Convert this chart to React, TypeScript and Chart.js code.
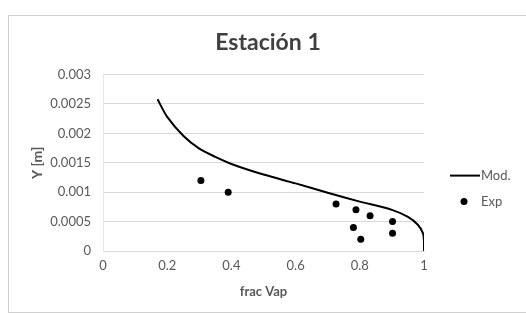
import React, { useEffect, useRef } from "react";
import { Chart, registerables } from "chart.js";

Chart.register(...registerables);

const titleText = "Estación 1";
const xTitle = "frac Vap";
const yTitle = "Y [m]";
const legendLabels = ["Mod.", "Exp"];

const modX = [0.17, 0.2, 0.25, 0.3, 0.35, 0.4, 0.5, 0.6, 0.7, 0.8, 0.9, 0.95, 0.98, 0.997, 1.0, 1.0];
const modY = [0.00258, 0.00228, 0.00196, 0.00174, 0.0016, 0.00148, 0.0013, 0.00115, 0.00099, 0.00084, 0.0007, 0.00058, 0.00045, 0.0003, 0.00015, 0];

const expX = [0.305, 0.39, 0.726, 0.788, 0.832, 0.78, 0.803, 0.902, 0.902];
const expY = [0.0012, 0.001, 0.0008, 0.0007, 0.0006, 0.0004, 0.0002, 0.0005, 0.0003];

const xTickValues = [0, 0.2, 0.4, 0.6, 0.8, 1];
const xTickLabels = ["0", "0.2", "0.4", "0.6", "0.8", "1"];
const yTickValues = [0, 0.0005, 0.001, 0.0015, 0.002, 0.0025, 0.003];
const yTickLabels = ["0", "0.0005", "0.001", "0.0015", "0.002", "0.0025", "0.003"];

const FONT = "Lato, 'Open Sans', sans-serif";
const TEXT = "#595959";

function labelFor(v: number, vals: number[], labels: string[]) {
  for (let i = 0; i < vals.length; i++) {
    if (Math.abs(vals[i] - v) < 1e-9) return labels[i];
  }
  return "";
}

const legendPlugin = {
  id: "customLegend",
  afterDraw(chart: any) {
    const { ctx, chartArea } = chart;
    const r = chartArea.right;
    const t = chartArea.top;
    ctx.save();
    ctx.font = `13px ${FONT}`;
    ctx.textBaseline = "middle";
    ctx.strokeStyle = "#000";
    ctx.lineWidth = 2;
    ctx.beginPath();
    ctx.moveTo(r + 26, t + 101);
    ctx.lineTo(r + 56, t + 101);
    ctx.stroke();
    ctx.fillStyle = TEXT;
    ctx.fillText(legendLabels[0], r + 57, t + 101);
    ctx.fillStyle = "#000";
    ctx.beginPath();
    ctx.arc(r + 40, t + 127, 3.5, 0, Math.PI * 2);
    ctx.fill();
    ctx.fillStyle = TEXT;
    ctx.fillText(legendLabels[1], r + 57, t + 127);
    ctx.restore();
  },
};

export default function App() {
  const ref = useRef<HTMLCanvasElement>(null);
  useEffect(() => {
    if (!ref.current) return;
    const chart = new Chart(ref.current, {
      type: "scatter",
      data: {
        datasets: [
          {
            label: legendLabels[0],
            data: modX.map((x, i) => ({ x, y: modY[i] })),
            showLine: true,
            borderColor: "#000",
            backgroundColor: "#000",
            borderWidth: 2,
            pointRadius: 0,
            tension: 0.25,
          },
          {
            label: legendLabels[1],
            data: expX.map((x, i) => ({ x, y: expY[i] })),
            showLine: false,
            borderColor: "#000",
            backgroundColor: "#000",
            pointRadius: 3.5,
            pointBorderWidth: 0,
          },
        ],
      },
      options: {
        responsive: false,
        animation: false,
        layout: { padding: { left: 0, right: 0, top: 0, bottom: 0 } },
        plugins: {
          legend: { display: false },
          tooltip: { enabled: false },
          title: {
            display: true,
            text: titleText,
            color: "#404040",
            font: { family: FONT, size: 23, weight: "bold" },
            padding: { top: 13, bottom: 18 },
          },
        },
        scales: {
          x: {
            type: "linear",
            min: 0,
            max: 1,
            afterFit: (s: any) => { s.height = 61; },
            afterBuildTicks: (s: any) => { s.ticks = xTickValues.map((v) => ({ value: v })); },
            ticks: {
              color: TEXT,
              font: { family: FONT, size: 13 },
              padding: 7,
              maxRotation: 0,
              callback: (v: any) => labelFor(Number(v), xTickValues, xTickLabels),
            },
            grid: { display: false, drawTicks: false },
            border: { display: true, color: "#d9d9d9", width: 1 },
            title: {
              display: true,
              text: xTitle,
              color: TEXT,
              font: { family: FONT, size: 13, weight: "bold" },
              padding: { top: 0, bottom: 12 },
            },
          },
          y: {
            type: "linear",
            min: 0,
            max: 0.003,
            afterFit: (s: any) => { s.width = 94; },
            afterBuildTicks: (s: any) => { s.ticks = yTickValues.map((v) => ({ value: v })); },
            ticks: {
              color: TEXT,
              font: { family: FONT, size: 13 },
              padding: 12,
              callback: (v: any) => labelFor(Number(v), yTickValues, yTickLabels),
            },
            grid: { color: "#d9d9d9", lineWidth: 1, drawTicks: false },
            border: { display: true, color: "#e6e6e6", width: 1 },
            title: {
              display: true,
              text: yTitle,
              color: TEXT,
              font: { family: FONT, size: 14, weight: "bold" },
              padding: { top: 20, bottom: 0 },
            },
          },
          legendSpace: {
            type: "linear",
            position: "right",
            display: true,
            afterFit: (s: any) => { s.width = 103; },
            ticks: { display: false },
            grid: { display: false, drawTicks: false },
            border: { display: false },
          },
        },
      },
      plugins: [legendPlugin],
    } as any);
    return () => chart.destroy();
  }, []);
  return (
    <div
      style={{
        position: "absolute",
        left: 8,
        top: 15,
        width: 530,
        height: 296,
        border: "1px solid #d0d0d0",
        background: "#fff",
      }}
    >
      <canvas ref={ref} width={518} height={296} style={{ display: "block" }} />
    </div>
  );
}
